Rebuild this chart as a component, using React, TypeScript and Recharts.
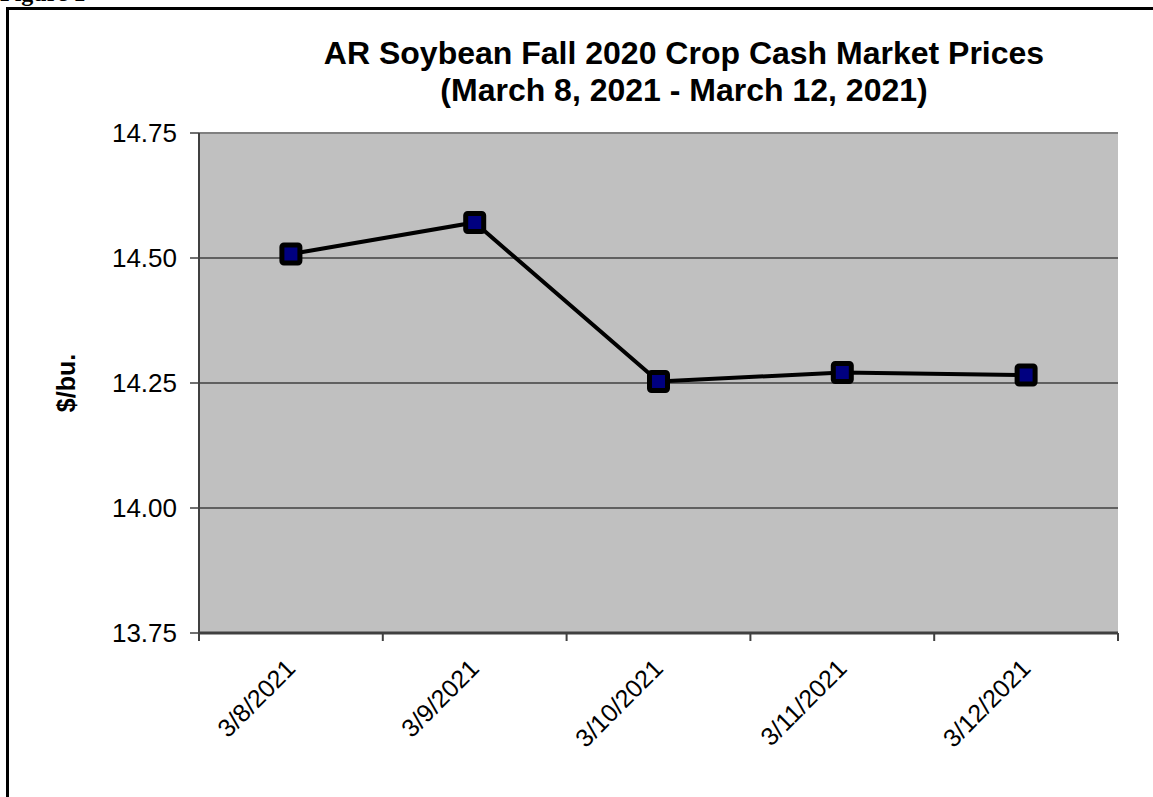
import { CartesianGrid, Label, Line, LineChart, ReferenceLine, XAxis, YAxis } from 'recharts'

const dates = ['3/8/2021', '3/9/2021', '3/10/2021', '3/11/2021', '3/12/2021']
const prices = [14.508, 14.571, 14.253, 14.271, 14.266]
const priceTicks = [13.75, 14.0, 14.25, 14.5, 14.75]

const chartData = dates.map((date, i) => ({ date, price: prices[i] }))

const font = '"Liberation Sans", Arial, sans-serif'

const chartWidth = 1153
const chartHeight = 797
const margin = { top: 133, right: 35, left: 0, bottom: 14 }
const yAxisWidth = 199
const plotWidth = chartWidth - margin.left - margin.right - yAxisWidth
const band = plotWidth / dates.length

export default function App() {
  return (
    <div style={{ position: 'absolute', left: 0, top: 0, width: chartWidth, height: chartHeight, overflow: 'hidden', background: '#fff' }}>
      <div
        style={{
          position: 'absolute',
          left: 0,
          top: -19,
          fontFamily: '"Liberation Serif", "Times New Roman", serif',
          fontWeight: 'bold',
          fontSize: 24,
          lineHeight: '24px'
        }}
      >
        Figure 1
      </div>
      <div
        style={{
          position: 'absolute',
          left: 6,
          top: 7,
          width: 2000,
          height: 2000,
          borderLeft: '3px solid #000',
          borderTop: '3px solid #000'
        }}
      />
      <div
        style={{
          position: 'absolute',
          left: 284,
          top: 35,
          width: 800,
          textAlign: 'center',
          fontFamily: font,
          fontWeight: 'bold',
          fontSize: 32,
          lineHeight: '37px'
        }}
      >
        AR Soybean Fall 2020 Crop Cash Market Prices
        <br />
        (March 8, 2021 - March 12, 2021)
      </div>
      <div style={{ position: 'absolute', left: 0, top: 0 }}>
        <LineChart width={chartWidth} height={chartHeight} data={chartData} margin={margin}>
          <CartesianGrid vertical={false} fill="#C0C0C0" stroke="#000" strokeWidth={1} />
          <XAxis
            dataKey="date"
            padding={{ left: band / 2, right: band / 2 }}
            height={150}
            tickLine={false}
            tickSize={0}
            tickMargin={0}
            axisLine={{ stroke: '#404040', strokeWidth: 3 }}
            tick={<DateTick />}
            interval={0}
          />
          <YAxis
            domain={[13.75, 14.75]}
            ticks={priceTicks}
            width={yAxisWidth}
            tickSize={9}
            tickMargin={13}
            tickFormatter={(v: number) => v.toFixed(2)}
            tick={{ fill: '#000', fontSize: 26, fontFamily: font }}
            axisLine={{ stroke: '#404040', strokeWidth: 2 }}
            tickLine={{ stroke: '#404040', strokeWidth: 1.5 }}
          >
            <Label
              content={() => (
                <text
                  x={66}
                  y={383}
                  transform="rotate(-90, 66, 383)"
                  textAnchor="middle"
                  dominantBaseline="central"
                  fontFamily={font}
                  fontWeight="bold"
                  fontSize={25}
                  fill="#000"
                >
                  $/bu.
                </text>
              )}
            />
          </YAxis>
          <YAxis
            yAxisId="right"
            orientation="right"
            domain={[13.75, 14.75]}
            allowDataOverflow
            width={0}
            tick={false}
            tickLine={false}
            axisLine={{ stroke: '#808080', strokeWidth: 2 }}
          />
          <ReferenceLine y={14.75} stroke="#808080" strokeWidth={2} />
          <Line
            dataKey="price"
            stroke="#000"
            strokeWidth={4}
            dot={<SquareDot />}
            activeDot={false}
            isAnimationActive={false}
          />
        </LineChart>
      </div>
    </div>
  )
}

// category label rotated 45deg, plus the tick marks on the band edges
function DateTick(props: any) {
  const { x, y, payload, index } = props
  const tx = x + 6
  const ty = y + 37
  const left = x - band / 2
  const right = x + band / 2
  return (
    <g>
      <line x1={left} y1={y} x2={left} y2={y + 8} stroke="#404040" strokeWidth={2} />
      {index === dates.length - 1 && (
        <line x1={right} y1={y} x2={right} y2={y + 8} stroke="#404040" strokeWidth={2} />
      )}
      <text
        x={tx}
        y={ty}
        transform={`rotate(-45, ${tx}, ${ty})`}
        textAnchor="end"
        fontFamily={font}
        fontSize={25}
        fill="#000"
      >
        {payload.value}
      </text>
    </g>
  )
}

function SquareDot(props: any) {
  const { cx, cy } = props
  if (cx == null || cy == null) return null
  return (
    <rect
      x={cx - 9}
      y={cy - 9}
      width={18}
      height={18}
      rx={2}
      fill="#000080"
      stroke="#000"
      strokeWidth={5}
    />
  )
}
